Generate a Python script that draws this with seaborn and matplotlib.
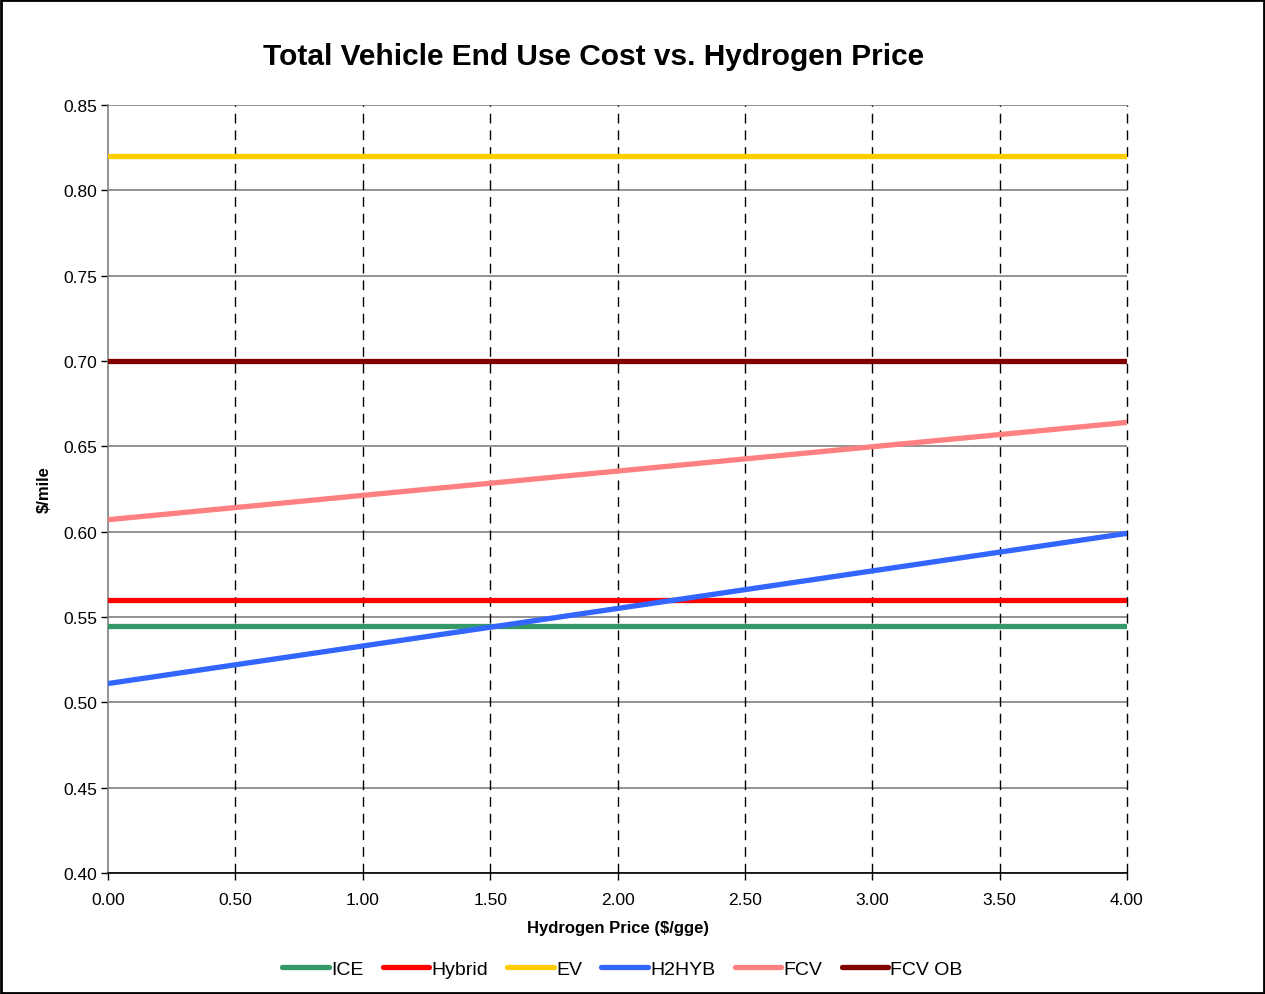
import pandas as pd
import matplotlib.pyplot as plt
import seaborn as sns

# hydrogen price ($/gge) at the two ends of the chart
price = [0.0, 4.0]

# $/mile at 0.00 and 4.00
ice = [0.545, 0.545]
hybrid = [0.560, 0.560]
ev = [0.820, 0.820]
h2hyb = [0.511, 0.599]
fcv = [0.607, 0.664]
fcv_ob = [0.700, 0.700]

names = ['ICE', 'Hybrid', 'EV', 'H2HYB', 'FCV', 'FCV OB']
colors = ['#339966', '#FF0000', '#FFCC00', '#3366FF', '#FF8080', '#800000']

rows = []
for name, vals in zip(names, [ice, hybrid, ev, h2hyb, fcv, fcv_ob]):
    for x, y in zip(price, vals):
        rows.append({'price': x, 'cost': y, 'vehicle': name})
df = pd.DataFrame(rows)

sns.set_style('white')
plt.rcParams['font.family'] = ['Liberation Sans', 'DejaVu Sans']
plt.rcParams['text.color'] = 'black'
plt.rcParams['axes.labelcolor'] = 'black'
plt.rcParams['xtick.color'] = 'black'
plt.rcParams['ytick.color'] = 'black'

fig = plt.figure(figsize=(12.65, 9.95), dpi=100)
ax = fig.add_axes([0.0854, 0.1216, 0.8055, 0.7719])

sns.lineplot(data=df, x='price', y='cost', hue='vehicle', hue_order=names,
             palette=colors, linewidth=3.8, ax=ax, legend=True, zorder=3)

ax.set_xlim(0, 4)
ax.set_ylim(0.40, 0.85)
ax.set_xticks([i * 0.5 for i in range(9)])
ax.set_yticks([0.40 + i * 0.05 for i in range(10)])
ax.xaxis.set_major_formatter(plt.FormatStrFormatter('%.2f'))
ax.yaxis.set_major_formatter(plt.FormatStrFormatter('%.2f'))
ax.tick_params(axis='both', labelsize=12.5, length=5, width=1,
               direction='out', bottom=True, left=True)
ax.tick_params(axis='x', pad=9)
ax.tick_params(axis='y', pad=3)

# grid: solid grey horizontal, dashed black vertical (not at x=0, the axis is there)
ax.yaxis.grid(True, color='#808080', linewidth=1.2, linestyle='-')
for xv in [i * 0.5 for i in range(1, 9)]:
    ax.axvline(xv, color='black', linewidth=1.0, linestyle=(0, (7, 5)),
               clip_on=False, zorder=1)
ax.set_axisbelow(True)

for s in ['top', 'right']:
    ax.spines[s].set_visible(False)
ax.spines['left'].set_color('#808080')
ax.spines['bottom'].set_color('black')
ax.spines['left'].set_linewidth(1.2)
ax.spines['bottom'].set_linewidth(1.2)

ax.set_xlabel('Hydrogen Price ($/gge)', fontsize=12, fontweight='bold', labelpad=9)
ax.set_ylabel('$/mile', fontsize=12, fontweight='bold', labelpad=8)

fig.text(0.469, 0.943, 'Total Vehicle End Use Cost vs. Hydrogen Price',
         ha='center', va='center', fontsize=21.5, fontweight='bold')

ax.get_legend().remove()
handles, labels = ax.get_legend_handles_labels()
fig.legend(handles, labels, loc='center', bbox_to_anchor=(0.492, 0.025), ncol=6,
           frameon=False, fontsize=14, handlelength=2.4, handletextpad=0.1,
           columnspacing=1.0)

# outer border
fig.patches.append(plt.Rectangle((0.001, 0.001), 0.998, 0.998, transform=fig.transFigure,
                                 fill=False, edgecolor='black', linewidth=2))

fig.savefig('out.png', dpi=100)
